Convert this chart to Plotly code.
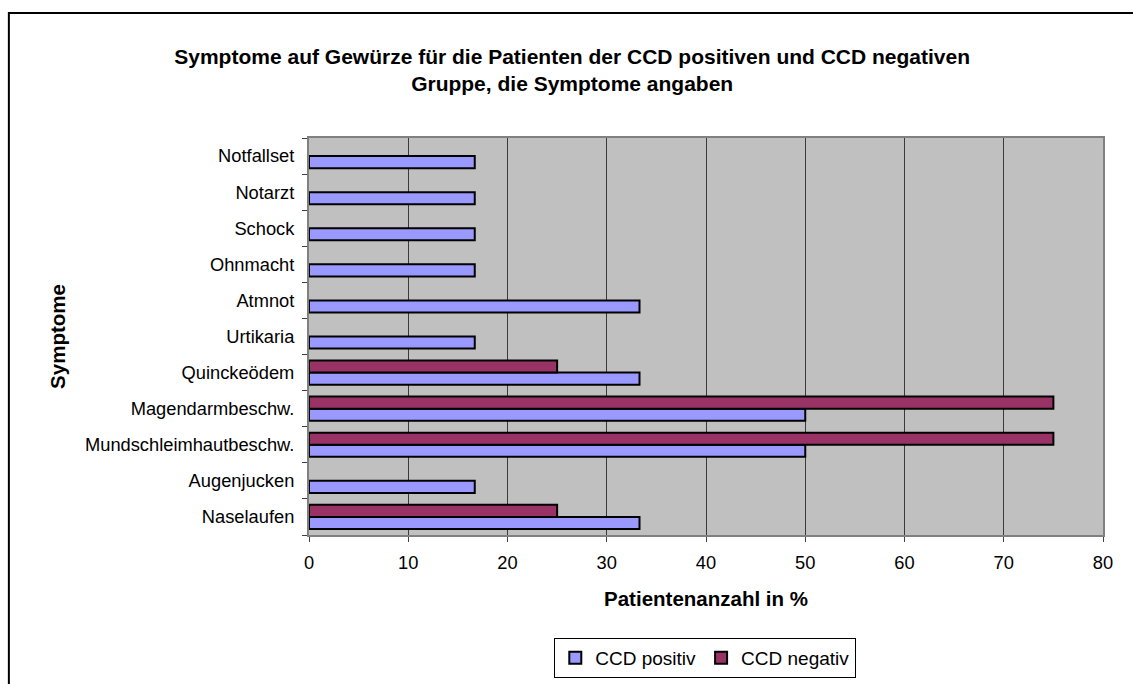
import plotly.graph_objects as go

# Symptom categories, listed bottom to top as they appear on the axis
symptome = [
    "Naselaufen",
    "Augenjucken",
    "Mundschleimhautbeschw.",
    "Magendarmbeschw.",
    "Quinckeödem",
    "Urtikaria",
    "Atmnot",
    "Ohnmacht",
    "Schock",
    "Notarzt",
    "Notfallset",
]

# Patient share in percent (None = no patient reported the symptom)
ccd_positiv = [33.3, 16.7, 50.0, 50.0, 33.3, 16.7, 33.3, 16.7, 16.7, 16.7, 16.7]
ccd_negativ = [25.0, None, 75.0, 75.0, 25.0, None, None, None, None, None, None]

x_ticks = [0, 10, 20, 30, 40, 50, 60, 70, 80]

FONT = "Liberation Sans, Arial, sans-serif"

fig = go.Figure()
fig.add_trace(go.Bar(
    y=symptome, x=ccd_positiv, orientation="h", name="CCD positiv",
    marker=dict(color="#9999FF", line=dict(color="black", width=2)),
))
fig.add_trace(go.Bar(
    y=symptome, x=ccd_negativ, orientation="h", name="CCD negativ",
    marker=dict(color="#993366", line=dict(color="black", width=2)),
))

fig.update_layout(
    width=1133, height=684,
    margin=dict(l=309, r=30, t=138, b=149, autoexpand=False),
    paper_bgcolor="white",
    plot_bgcolor="#C0C0C0",
    barmode="group",
    bargap=0.33,
    bargroupgap=0.0,
    font=dict(family=FONT, size=18.3, color="black"),
    title=dict(
        text="<b>Symptome auf Gewürze für die Patienten der CCD positiven und CCD negativen<br>Gruppe, die Symptome angaben</b>",
        x=0.505, xref="container", xanchor="center",
        y=0.907, yanchor="middle",
        font=dict(family=FONT, size=21, color="black"),
    ),
    xaxis=dict(
        range=[0, 80], tickvals=x_ticks, ticktext=[str(v) for v in x_ticks],
        showgrid=True, gridcolor="#3a3a3a", gridwidth=1,
        showline=True, linecolor="#808080", linewidth=2, mirror=True,
        ticks="outside", ticklen=5, tickcolor="#404040",
        ticklabelstandoff=5,
        zeroline=False, automargin=False,
        title=dict(text="<b>Patientenanzahl in %</b>", font=dict(size=20.5), standoff=20),
    ),
    yaxis=dict(
        type="category", categoryorder="array", categoryarray=symptome,
        showline=True, linecolor="#808080", linewidth=2, mirror=True,
        ticks="outside", ticklen=5, tickcolor="#404040", tickson="boundaries",
        ticklabelstandoff=9,
        showgrid=False, automargin=False,
        title=dict(text="<b>Symptome</b>", font=dict(size=20.5), standoff=14),
    ),
    legend=dict(
        orientation="h", xref="container", x=0.6225, xanchor="center",
        yref="container", y=1 - 638 / 684, yanchor="top",
        bordercolor="black", borderwidth=1,
        font=dict(size=19), itemwidth=30, traceorder="normal",
    ),
    shapes=[dict(
        type="rect", xref="paper", yref="paper",
        x0=-0.378, x1=1.2, y0=-0.6, y1=1.315,
        line=dict(color="black", width=2), fillcolor="rgba(0,0,0,0)",
        layer="below",
    )],
)

fig.write_html("out.html")
